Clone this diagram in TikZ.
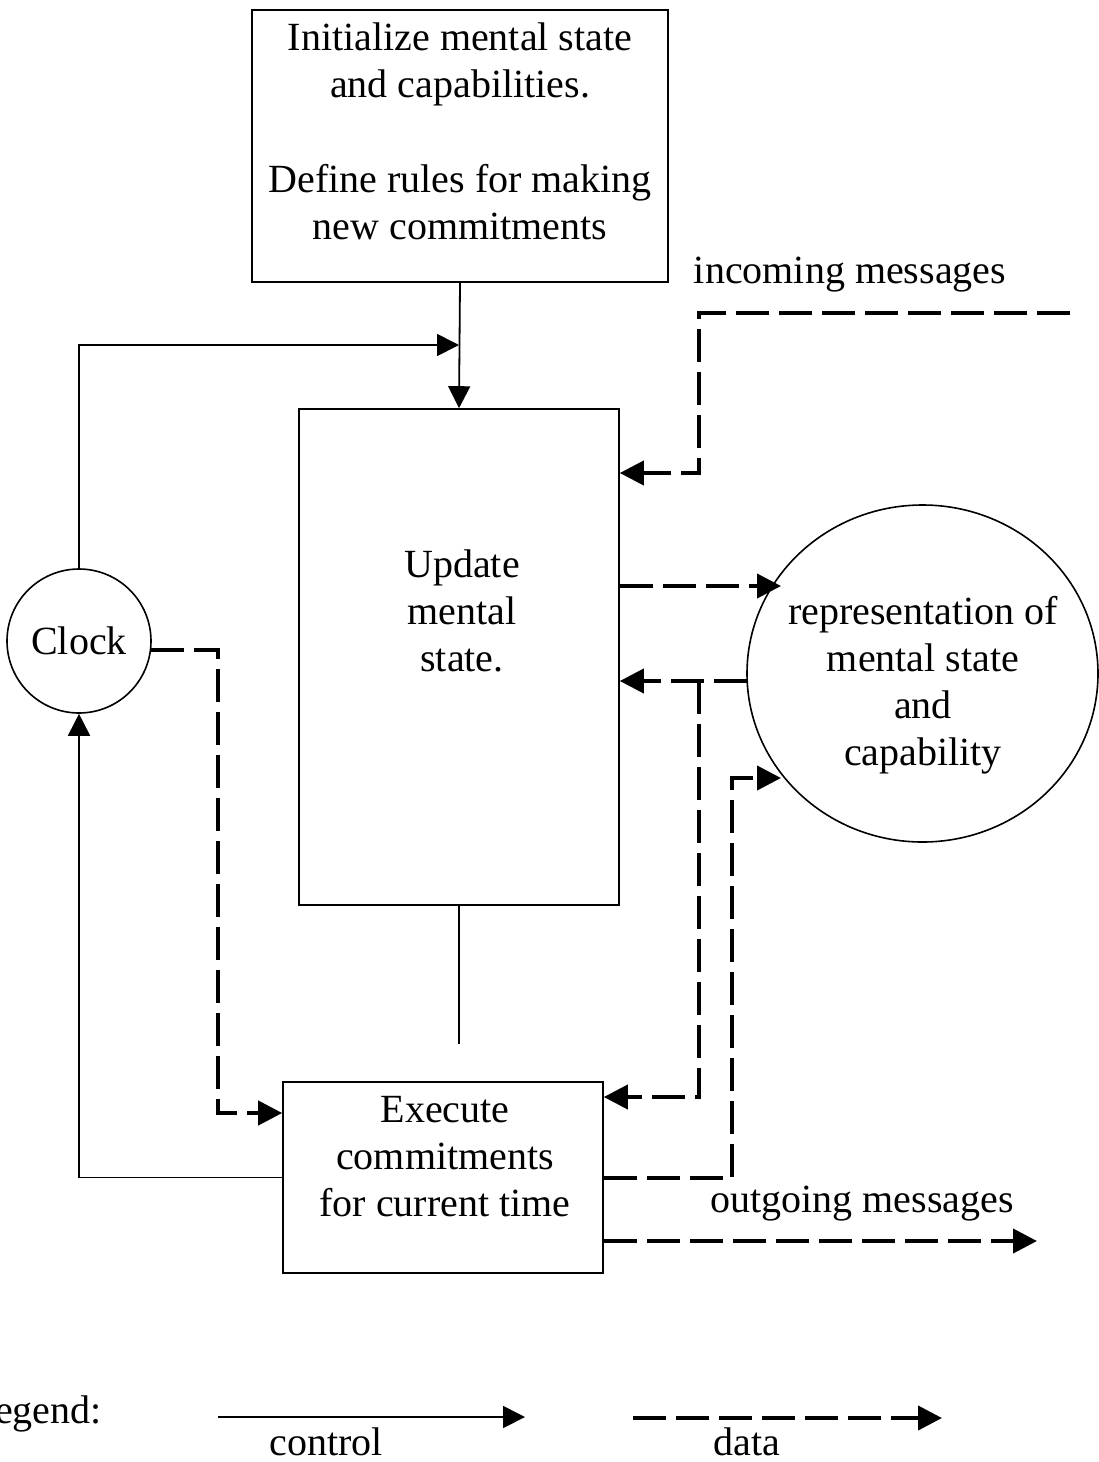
\documentclass[tikz,border=0pt]{standalone}
\usepackage{fontspec}
\setmainfont{Liberation Serif}
\usetikzlibrary{arrows.meta, shapes.geometric}

\tikzset{
  txt/.style = {font=\fontsize{40}{47}\selectfont, align=center, inner sep=0pt},
  box/.style = {draw, line width=1.6pt, inner sep=0pt},
  ctrl/.style = {line width=1.8pt},
  ctrlarrow/.style = {ctrl, -{Triangle[length=22pt, width=22pt]}},
  data/.style = {line width=4pt, dash pattern=on 33pt off 10pt},
  dataarrow/.style = {data, -{Triangle[length=24pt, width=24pt]}}
}

\begin{document}
\begin{tikzpicture}[x=1pt, y=-1pt]
\useasboundingbox (0,0) rectangle (1098,1462);

% boxes and stores
\node[box, minimum width=416pt, minimum height=272pt] (init) at (460,146) {};
\node[box, minimum width=320pt, minimum height=496pt] (upd) at (459,657) {};
\node[box, minimum width=320pt, minimum height=191pt] (exe) at (443,1177.5) {};
\node[box, circle, minimum size=144pt, txt] (clock) at (79,641) {Clock};
\node[box, ellipse, minimum width=351pt, minimum height=337pt] (rep) at (922.5,673.5) {};

% texts sit on the baseline of their last line
\node[txt, anchor=base] (init-t) at (460,239)
  {Initialize mental state\\and capabilities.\\[48pt]Define rules for making\\new commitments};
\node[txt, anchor=base] (upd-t) at (462,671) {Update\\mental\\state.};
\node[txt, anchor=base] (exe-t) at (445,1216) {Execute\\commitments\\for current time};
\node[txt, anchor=base] (rep-t) at (923,765) {representation of\\mental state\\and\\capability};

\node[txt, anchor=base] (in-l) at (850,283) {incoming messages};
\node[txt, anchor=base] (out-l) at (862,1212) {outgoing messages};

% bend points
\coordinate (merge) at (459,345);
\coordinate (stub) at (459,1044);
\coordinate (cbend) at (218,1113);
\coordinate (inc) at (1070,313);
\coordinate (inbend) at (699,473);
\coordinate (repin) at (781,586);
\coordinate (repout) at (747,681);
\coordinate (branch) at (699,1097);
\coordinate (exebend) at (732,778);
\coordinate (repin2) at (781,778);
\coordinate (outend) at (1037,1241);

% control flow
\draw[ctrlarrow] (init.south) -- (upd.north);
\draw[ctrlarrow] (clock.north) |- (merge);
\draw[ctrl] (upd.south) -- (stub);
\draw[ctrlarrow] (exe.west) -| (clock.south);

% data flow
\draw[dataarrow] (clock.-7) -| (cbend) -- (exe.west |- cbend);
\draw[dataarrow] (inc) -| (inbend) -- (upd.east |- inbend);
\draw[dataarrow] (upd.east |- repin) -- (repin);
\draw[dataarrow] (repout) -- (upd.east |- repout);
\draw[dataarrow] (repout -| branch) -- (branch) -- (exe.east |- branch);
\draw[dataarrow] (exe.east) -| (exebend) -- (repin2);
\draw[dataarrow] (exe.east |- outend) -- (outend);

% legend
\node[txt, anchor=base east] (legend) at (102,1423) {Legend:};
\coordinate (c0) at (218,1417);
\coordinate (c1) at (525,1417);
\coordinate (d0) at (633,1418);
\coordinate (d1) at (942,1418);
\draw[ctrlarrow] (c0) -- (c1);
\draw[dataarrow] (d0) -- (d1);
\node[txt, anchor=base] (ctrl-l) at (326,1455) {control};
\node[txt, anchor=base] (data-l) at (747,1455) {data};
\end{tikzpicture}
\end{document}
